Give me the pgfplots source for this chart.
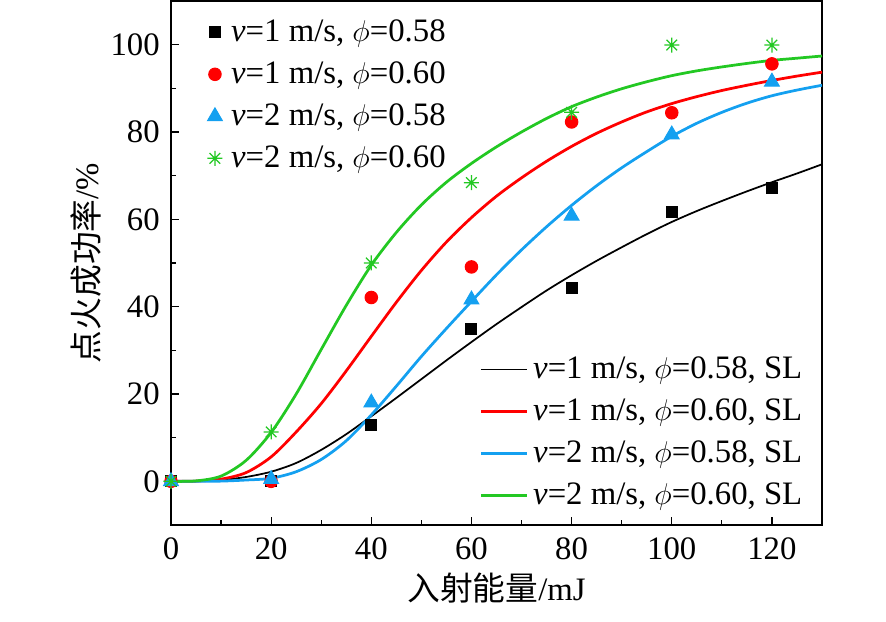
\documentclass[border=0pt]{standalone}
\usepackage{pgfplots}
\pgfplotsset{compat=1.18}
\usepackage{fontspec}
\setmainfont{Liberation Serif}
\newfontfamily\cjk{Noto Sans CJK SC}
\definecolor{cred}{RGB}{255,0,0}
\definecolor{cblue}{RGB}{20,160,240}
\definecolor{cgreen}{RGB}{35,200,35}
\pgfdeclareplotmark{star8}{%
  \pgfpathmoveto{\pgfqpoint{0pt}{\pgfplotmarksize}}\pgfpathlineto{\pgfqpoint{0pt}{-\pgfplotmarksize}}%
  \pgfpathmoveto{\pgfqpoint{\pgfplotmarksize}{0pt}}\pgfpathlineto{\pgfqpoint{-\pgfplotmarksize}{0pt}}%
  \pgfpathmoveto{\pgfqpointpolar{45}{\pgfplotmarksize}}\pgfpathlineto{\pgfqpointpolar{225}{\pgfplotmarksize}}%
  \pgfpathmoveto{\pgfqpointpolar{135}{\pgfplotmarksize}}\pgfpathlineto{\pgfqpointpolar{315}{\pgfplotmarksize}}%
  \pgfusepathqstroke}

\pgfplotstableread{
x    a     b     c     d
0    0     0     0     0
5    0.03  0.05  0     0.1
10   0.3   0.5   0.05  1.2
15   1.0   2.0   0.3   4.8
20   2.2   5.6   0.7   11.2
25   4.2   11.3  2.2   20.0
30   7.2   17.8  5.0   30.2
35   10.8  25.3  9.3   40.3
40   14.9  33.2  15.2  49.5
45   19.1  41.0  21.8  57.0
50   23.4  48.3  28.6  63.3
55   27.7  54.8  35.0  68.5
60   31.9  60.4  41.2  72.8
65   36.0  65.3  47.3  76.6
70   39.9  69.5  53.0  80.0
75   43.7  73.3  58.3  83.1
80   47.2  76.7  63.2  85.8
85   50.5  79.7  67.7  88.0
90   53.6  82.3  71.8  89.9
95   56.6  84.6  75.5  91.5
100  59.4  86.5  79.0  92.9
105  61.9  88.1  82.0  94.0
110  64.2  89.5  84.5  94.9
115  66.4  90.7  86.6  95.7
120  68.5  91.8  88.3  96.4
125  70.5  92.8  89.6  96.9
130  72.6  93.7  90.7  97.4
}\curves

\pgfplotstableread{
x    a     b     c     d
0    0     0     0     0
20   0     0     0.5   11.3
40   12.8  42.1  18.0  50.0
60   34.8  49.1  41.6  68.4
80   44.3  82.3  60.8  84.5
100  61.7  84.4  79.4  99.9
120  67.1  95.6  91.5  99.9
}\points

\begin{document}
\begin{tikzpicture}
\useasboundingbox (-68.4pt,-38.8pt) rectangle (286pt,210pt);
\pgfplotsset{
  base/.style={
    at={(0pt,0pt)}, anchor=south west,
    scale only axis, width=260.4pt, height=209.6pt,
    xmin=0, xmax=130, ymin=-10, ymax=110,
    clip=false,
  }
}
\begin{axis}[
  base,
  xtick={0,20,...,120}, ytick={0,20,...,100},
  minor tick num=1,
  tick pos=left, tick align=inside,
  major tick length=3.2pt, minor tick length=2pt,
  axis line style={line width=0.7pt},
  every tick/.style={black, line width=0.5pt},
  /pgf/number format/assume math mode=true,
  tick label style={font=\fontsize{13.1}{15.5}\selectfont},
  xticklabel style={yshift=-1.5pt},
  yticklabel style={xshift=-1pt},
  label style={font=\fontsize{13.1}{15.5}\selectfont},
  xlabel={{\cjk 入射能量}/mJ},
  ylabel={{\cjk 点火成功率}/\%},
  xlabel style={at={(axis description cs:0.5,-0.1202)}, anchor=center},
  ylabel style={at={(axis description cs:-0.1304,0.5)}, anchor=center},
  legend style={at={(axis description cs:0.4731,0.3219)}, anchor=north west,
    draw=none, fill=none, inner sep=0pt, font=\fontsize{13.1}{15.5}\selectfont,
    row sep=6.6pt, column sep=2pt, nodes={inner sep=0pt}},
  legend cell align=left,
  legend image code/.code={\draw[#1] (0pt,0pt) -- (18.4pt,0pt);},
]
\addplot[black, line width=0.7pt, smooth] table[x=x,y=a] {\curves};
\addlegendentry{\textit{v}=1 m/s, $\phi$=0.58, SL}
\addplot[cred, line width=1.1pt, smooth] table[x=x,y=b] {\curves};
\addlegendentry{\textit{v}=1 m/s, $\phi$=0.60, SL}
\addplot[cblue, line width=1.1pt, smooth] table[x=x,y=c] {\curves};
\addlegendentry{\textit{v}=2 m/s, $\phi$=0.58, SL}
\addplot[cgreen, line width=1.1pt, smooth] table[x=x,y=d] {\curves};
\addlegendentry{\textit{v}=2 m/s, $\phi$=0.60, SL}
\end{axis}

\begin{axis}[
  base, hide axis,
  legend style={at={(axis description cs:0.0514,0.9656)}, anchor=north west,
    draw=none, fill=none, inner sep=0pt, font=\fontsize{13.1}{15.5}\selectfont,
    row sep=6.6pt, column sep=2.5pt, nodes={inner sep=0pt}},
  legend cell align=left,
  legend image code/.code={\path[draw=none,fill=none] (0pt,-3.5pt) rectangle (8pt,3.5pt); \draw[#1] plot coordinates {(4pt,0pt)};},
]
\addplot[only marks, mark=square*, mark size=2.2pt, black] table[x=x,y=a] {\points};
\addlegendentry{\textit{v}=1 m/s, $\phi$=0.58}
\addplot[only marks, mark=*, mark size=2.5pt, cred] table[x=x,y=b] {\points};
\addlegendentry{\textit{v}=1 m/s, $\phi$=0.60}
\addplot[only marks, mark=triangle*, mark size=3.4pt, cblue] table[x=x,y=c] {\points};
\addlegendentry{\textit{v}=2 m/s, $\phi$=0.58}
\addplot[only marks, mark=star8, mark size=3pt, cgreen, line width=0.5pt] table[x=x,y=d] {\points};
\addlegendentry{\textit{v}=2 m/s, $\phi$=0.60}
\end{axis}
\end{tikzpicture}
\end{document}
